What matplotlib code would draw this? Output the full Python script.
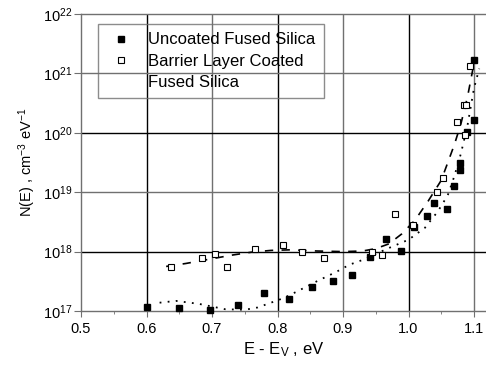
import matplotlib
matplotlib.use('Agg')
import matplotlib.pyplot as plt
import numpy as np
from matplotlib.lines import Line2D
from matplotlib.ticker import LogLocator, MultipleLocator, NullLocator, LogFormatterMathtext

plt.rcParams['font.family'] = ['Liberation Sans', 'DejaVu Sans']
plt.rcParams['mathtext.default'] = 'regular'

# uncoated fused silica (filled squares), energy in eV and log10 N(E)
uncoated_e = [0.600, 0.650, 0.697, 0.739, 0.780, 0.818, 0.852, 0.884, 0.914, 0.941, 0.965,
              0.988, 1.009, 1.029, 1.039, 1.059, 1.069, 1.078, 1.079, 1.090, 1.100, 1.100]
uncoated_logn = [17.07, 17.05, 17.02, 17.10, 17.31, 17.21, 17.41, 17.51, 17.61, 17.91, 18.21,
                 18.01, 18.41, 18.60, 18.81, 18.71, 19.11, 19.38, 19.49, 20.01, 20.21, 21.22]

# barrier layer coated fused silica (open squares)
coated_e = [0.638, 0.684, 0.704, 0.723, 0.765, 0.808, 0.838, 0.871, 0.945, 0.959, 0.979,
            1.007, 1.043, 1.053, 1.074, 1.084, 1.088, 1.087, 1.094]
coated_logn = [17.74, 17.89, 17.96, 17.74, 18.05, 18.11, 17.99, 17.90, 17.99, 17.94, 18.64,
               18.44, 19.00, 19.24, 20.18, 20.46, 20.46, 19.97, 21.13]

# fit curves
coated_fit_e = [0.63, 0.66, 0.70, 0.73, 0.76, 0.79, 0.82, 0.86, 0.90, 0.93, 0.95, 0.97,
                0.99, 1.01, 1.03, 1.05, 1.06, 1.07, 1.08, 1.09, 1.10]
coated_fit_logn = [17.75, 17.80, 17.88, 17.94, 17.99, 18.02, 18.03, 18.01, 18.00, 18.01, 18.05,
                   18.13, 18.30, 18.53, 18.85, 19.20, 19.50, 19.80, 20.15, 20.60, 21.17]

uncoated_fit_e = [0.62, 0.645, 0.68, 0.72, 0.75, 0.77, 0.79, 0.81, 0.83, 0.86, 0.89, 0.91,
                  0.93, 0.95, 0.97, 1.00, 1.025, 1.045, 1.06, 1.07, 1.08, 1.09, 1.10, 1.108]
uncoated_fit_logn = [17.14, 17.17, 17.12, 17.03, 17.02, 17.06, 17.14, 17.22, 17.33, 17.50, 17.66,
                     17.78, 17.86, 17.96, 18.06, 18.20, 18.40, 18.68, 18.95, 19.27, 19.65, 20.12,
                     20.75, 21.08]

fig = plt.figure(figsize=(4.86, 3.68), dpi=100)
ax = fig.add_axes([81 / 486, 57 / 368, 405 / 486, 297 / 368])

grey = '#707070'
for x in [0.6, 0.8, 1.0]:
    ax.axvline(x, color='black', lw=1.0, zorder=1)
for x in [0.7, 0.9, 1.1]:
    ax.axvline(x, color=grey, lw=1.0, zorder=1)
for y in [1e18, 1e20]:
    ax.axhline(y, color='black', lw=1.0, zorder=1)
for y in [1e19, 1e21]:
    ax.axhline(y, color=grey, lw=1.0, zorder=1)

ax.plot(coated_fit_e, 10 ** np.array(coated_fit_logn), color='black', lw=1.2,
        ls=(0, (5, 5)), zorder=2)
ax.plot(uncoated_fit_e, 10 ** np.array(uncoated_fit_logn), color='black', lw=1.3,
        ls=(0, (1, 3.5)), zorder=2)

ax.plot(uncoated_e, 10 ** np.array(uncoated_logn), ls='none', marker='s', ms=4.5,
        mfc='black', mec='black', zorder=3, clip_on=False)
ax.plot(coated_e, 10 ** np.array(coated_logn), ls='none', marker='s', ms=4.3,
        mfc='white', mec='black', mew=0.8, zorder=3, clip_on=False)

ax.set_yscale('log')
ax.set_xlim(0.5, 0.5 + 405 / 655)
ax.set_ylim(1e17, 1e22)

ax.xaxis.set_major_locator(MultipleLocator(0.1))
ax.xaxis.set_minor_locator(MultipleLocator(0.05))
ax.xaxis.set_major_formatter(lambda v, p: f'{v:.1f}')
ax.yaxis.set_major_locator(LogLocator(base=10, numticks=10))
ax.yaxis.set_minor_locator(NullLocator())
ax.yaxis.set_major_formatter(LogFormatterMathtext())

for side in ['left', 'bottom', 'top']:
    ax.spines[side].set_color(grey)
    ax.spines[side].set_linewidth(1.0)
ax.spines['right'].set_visible(False)

ax.tick_params(axis='both', which='major', direction='out', color=grey, labelsize=10.5)
ax.tick_params(axis='x', which='major', length=4, pad=4)
ax.tick_params(axis='x', which='minor', length=2.5, color=grey)
ax.tick_params(axis='y', which='major', length=5, pad=1)

ax.set_xlabel(r'E - E$_{V}$ , eV', fontsize=12, labelpad=3)
ax.set_ylabel(r'N(E) , cm$^{-3}$ eV$^{-1}$', fontsize=10.5, labelpad=4)

handles = [Line2D([], [], ls='none', marker='s', ms=4.5, mfc='black', mec='black'),
           Line2D([], [], ls='none', marker='s', ms=4.3, mfc='white', mec='black', mew=0.8),
           Line2D([], [], ls='none')]
labels = ['Uncoated Fused Silica', 'Barrier Layer Coated', 'Fused Silica']
leg = ax.legend(handles, labels, loc='upper left', bbox_to_anchor=(0.042, 0.966),
                borderaxespad=0, fancybox=False, edgecolor=grey, facecolor='none',
                fontsize=12, handlelength=1.8, handletextpad=0.7, borderpad=0.5,
                labelspacing=0.38, framealpha=None)
leg.get_frame().set_linewidth(1.0)

fig.savefig('out.png', dpi=100)
